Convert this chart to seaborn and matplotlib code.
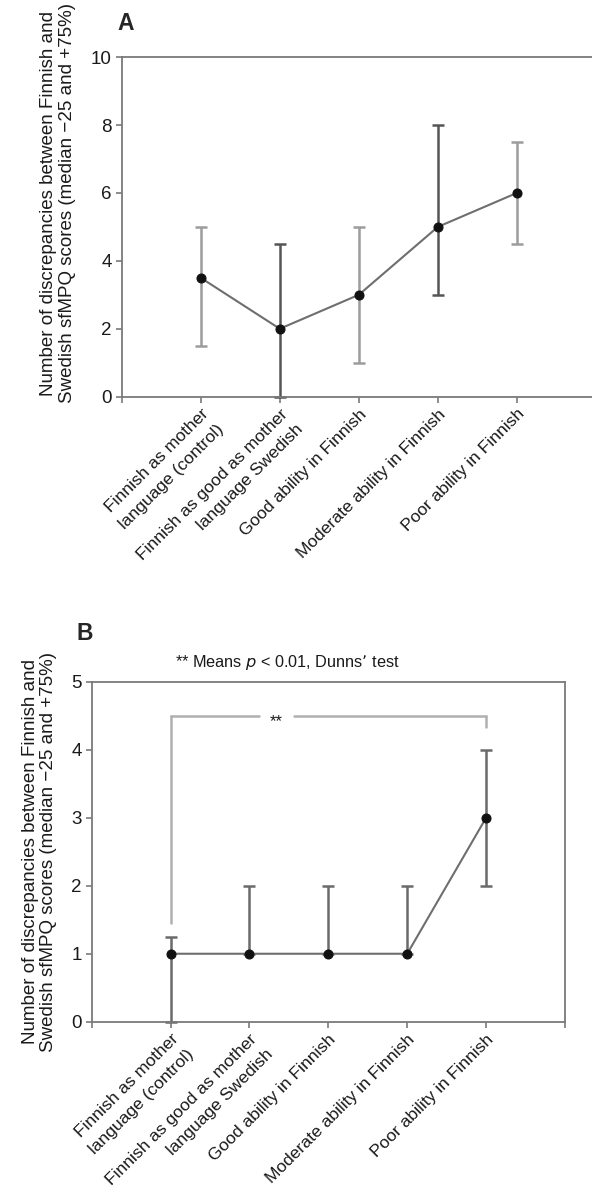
import matplotlib
matplotlib.use("Agg")
import matplotlib.pyplot as plt
import numpy as np
import seaborn as sns

# Datos
categorias = ["Finnish as mother\nlanguage (control)",
              "Finnish as good as mother\nlanguage Swedish",
              "Good ability in Finnish",
              "Moderate ability in Finnish",
              "Poor ability in Finnish"]

mediana_a = [3.5, 2, 3, 5, 6]
p25_a = [1.5, 0, 1, 3, 4.5]
p75_a = [5, 4.5, 5, 8, 7.5]

mediana_b = [1, 1, 1, 1, 3]
p25_b = [0, 1, 1, 1, 2]
p75_b = [1.25, 2, 2, 2, 4]

ylabel = "Number of discrepancies between Finnish and\nSwedish sfMPQ scores (median \u221225 and +75%)"

sns.set_style("white")
plt.rcParams["font.family"] = ["Liberation Sans", "DejaVu Sans"]

gris_eje = "#7a7a7a"
gris_linea = "#6e6e6e"
col_barras_a = ["#9c9c9c", "#555555", "#9c9c9c", "#555555", "#9c9c9c"]
col_barras_b = ["#6a6a6a"] * 5

fig = plt.figure(figsize=(5.92, 11.97), dpi=100)
ax_a = fig.add_axes([0.2056, 0.6686, 0.801, 0.2837])
ax_b = fig.add_axes([0.1549, 0.1464, 0.7995, 0.2841])


def etiquetas_x(ax):
    # cada línea de la etiqueta va aparte, alineada a la derecha y girada 45°
    paso = 11.2
    for i, cat in enumerate(categorias):
        for j, linea in enumerate(cat.split("\n")):
            ax.annotate(linea, xy=(i, 0), xycoords=("data", "axes fraction"),
                        xytext=(j * paso, -7 - j * paso),
                        textcoords="offset points", rotation=45,
                        ha="right", va="top", rotation_mode="anchor",
                        fontsize=12.6, color="#1a1a1a")


def dibujar(ax, med, lo, hi, colores, ymax, yticks):
    x = np.arange(len(categorias))
    for i in range(len(x)):
        ax.errorbar(x[i], med[i], yerr=[[med[i] - lo[i]], [hi[i] - med[i]]],
                    fmt="none", ecolor=colores[i], elinewidth=1.8,
                    capsize=4.3, capthick=1.8, zorder=1, clip_on=False)
    sns.lineplot(x=x, y=med, ax=ax, color=gris_linea, linewidth=1.5,
                 marker="o", markersize=6.5, markerfacecolor="#111111",
                 markeredgecolor="#111111", zorder=3, clip_on=False)
    ax.set_xlim(-1, len(categorias))
    ax.set_ylim(0, ymax)
    ax.set_yticks(yticks)
    ax.set_xticks(np.arange(-1, len(categorias) + 1))
    ax.set_xticklabels([])
    etiquetas_x(ax)
    for s in ax.spines.values():
        s.set_color(gris_eje)
        s.set_linewidth(1.3)
    ax.tick_params(axis="both", direction="out", length=4, width=1.2,
                   color=gris_eje, labelcolor="#1a1a1a",
                   bottom=True, left=True)
    ax.tick_params(axis="y", labelsize=13.5, pad=3)
    ax.set_ylabel(ylabel, fontsize=13.5, color="#1a1a1a", linespacing=1.1)
    ax.set_xlabel("")


dibujar(ax_a, mediana_a, p25_a, p75_a, col_barras_a, 10, [0, 2, 4, 6, 8, 10])
ax_a.spines["right"].set_visible(False)
ax_a.yaxis.set_label_coords(-0.097, 0.57)

dibujar(ax_b, mediana_b, p25_b, p75_b, col_barras_b, 5, [0, 1, 2, 3, 4, 5])
ax_b.yaxis.set_label_coords(-0.073, 0.5)

# Corchete de significación (control vs. poor ability)
alto = 4.5
gris_corchete = "#b0b0b0"
ax_b.plot([0, 0], [1.45, alto], color=gris_corchete, lw=1.8, zorder=0)
ax_b.plot([0, 1.12], [alto, alto], color=gris_corchete, lw=1.8, zorder=0)
ax_b.plot([1.57, 4], [alto, alto], color=gris_corchete, lw=1.8, zorder=0)
ax_b.plot([4, 4], [alto, 4.33], color=gris_corchete, lw=1.8, zorder=0)
ax_b.text(1.34, alto + 0.02, "**", ha="center", va="top", fontsize=12,
          color="#1a1a1a")

fig.text(117 / 592, 1 - 23 / 1197, "A", fontsize=16.5, fontweight="bold",
         ha="left", va="center")
fig.text(77 / 592, 1 - 634 / 1197, "B", fontsize=16.5, fontweight="bold",
         ha="left", va="center")
fig.text(287 / 592, 1 - 662 / 1197,
         "** Means $\\mathit{p}$ < 0.01, Dunns\u2019 test",
         fontsize=11.7, ha="center", va="center", color="#1a1a1a")

fig.savefig("out.png", dpi=100)
